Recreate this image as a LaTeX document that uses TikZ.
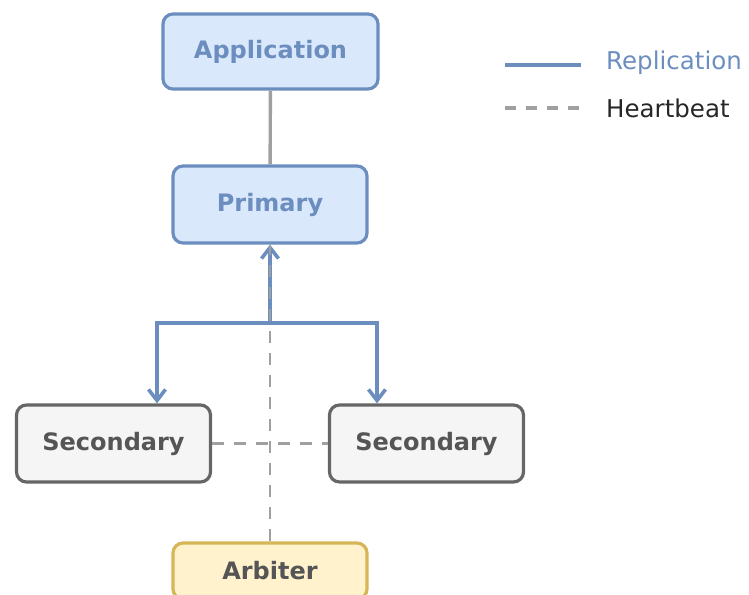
\documentclass[tikz,border=0pt]{standalone}
\usepackage{fontspec}
\setmainfont{DejaVu Sans}
\usetikzlibrary{arrows.meta,positioning}
\definecolor{repblue}{HTML}{6C8EBF}
\definecolor{bluefill}{HTML}{DAE8FC}
\definecolor{greyfill}{HTML}{F5F5F5}
\definecolor{greyline}{HTML}{666666}
\definecolor{greytext}{HTML}{555555}
\definecolor{arbfill}{HTML}{FFF2CC}
\definecolor{arbline}{HTML}{D6B656}
\definecolor{hbgrey}{HTML}{A0A0A0}

\begin{document}
\begin{tikzpicture}[x=1pt,y=-1pt,>={Straight Barb[length=11pt,width=17pt]},
 every node/.style={font=\fontsize{24.5}{28}\selectfont},
 box/.style={draw,line width=3.2pt,rounded corners=10pt,minimum width=194pt,minimum height=77pt,font=\fontsize{24}{28}\selectfont\bfseries},
 bluebox/.style={box,draw=repblue,fill=bluefill,text=repblue},
 greybox/.style={box,draw=greyline,fill=greyfill,text=greytext},
 arbbox/.style={box,draw=arbline,fill=arbfill,text=greytext,minimum height=56pt},
 rep/.style={draw=repblue,line width=3.6pt},
 beat/.style={draw=hbgrey,line width=2.8pt,dash pattern=on 12pt off 10pt}]
\useasboundingbox (0,0) rectangle (749,594);
\clip (0,0) rectangle (749,594);
\node[bluebox,minimum width=215pt,minimum height=75pt] (app) at (270.5,51.5) {Application};
\node[bluebox] (prim) at (270,204.5) {Primary};
\node[greybox] (secl) at (113.5,443.5) {Secondary};
\node[greybox] (secr) at (426.5,443.5) {Secondary};
\node[arbbox] (arb) at (270,571) {Arbiter};
\coordinate (split) at (270,323);
\draw[line width=3.4pt,draw=hbgrey] (app)--(prim);
\draw[rep,->] (split)--(prim.south);
\draw[rep,->] (split)-|([xshift=43.5pt]secl.north);
\draw[rep,->] (split)-|([xshift=-49.5pt]secr.north);
\draw[beat] (arb.north)--(prim.south);
\draw[beat] (secl.east)--(secr.west);
% legend
\coordinate (repa) at (505,65); \coordinate (repb) at (581,65);
\coordinate (beata) at (505,108); \coordinate (beatb) at (581,108);
\draw[rep] (repa)--(repb);
\draw[beat,line width=3.2pt,dash pattern=on 11pt off 10pt] (beata)--(beatb);
\node[anchor=west,text=repblue,inner sep=0pt] (replbl) at (606,63) {Replication};
\node[anchor=west,text=black!85,inner sep=0pt] (beatlbl) at (606,108) {Heartbeat};
\end{tikzpicture}
\end{document}
